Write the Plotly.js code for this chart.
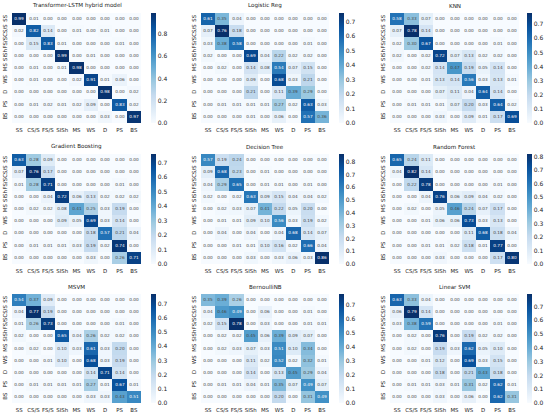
<!DOCTYPE html>
<html>
<head>
<meta charset="utf-8">
<script src="https://cdn.plot.ly/plotly-3.0.1.min.js"></script>
<style>html,body{margin:0;padding:0;background:#fff;}#chart{width:550px;height:420px;}</style>
</head>
<body>
<div id="chart"></div>
<script>
const categories = ["SS","CS/S","FS/S","SISh","MS","WS","D","PS","BS"];
const modelTitles = ["Transformer-LSTM hybrid model","Logistic Reg","KNN","Gradient Boosting","Decision Tree","Random Forest","MSVM","BernoulliNB","Linear SVM"];

const transformerLSTM = [
  [0.99,0.01,0.00,0.00,0.00,0.00,0.00,0.00,0.00],
  [0.02,0.82,0.14,0.00,0.01,0.00,0.01,0.00,0.00],
  [0.00,0.15,0.83,0.01,0.00,0.00,0.00,0.01,0.00],
  [0.00,0.00,0.00,0.99,0.00,0.01,0.00,0.00,0.00],
  [0.00,0.01,0.00,0.01,0.98,0.00,0.00,0.00,0.00],
  [0.00,0.01,0.00,0.00,0.02,0.91,0.01,0.06,0.00],
  [0.00,0.00,0.00,0.00,0.00,0.00,0.98,0.00,0.02],
  [0.00,0.01,0.02,0.01,0.02,0.09,0.00,0.83,0.02],
  [0.00,0.00,0.00,0.00,0.00,0.00,0.03,0.00,0.97]
];
const logisticReg = [
  [0.61,0.35,0.04,0.00,0.00,0.00,0.00,0.00,0.00],
  [0.07,0.76,0.18,0.00,0.00,0.00,0.00,0.00,0.00],
  [0.03,0.38,0.58,0.00,0.00,0.00,0.00,0.01,0.00],
  [0.02,0.00,0.00,0.69,0.04,0.22,0.02,0.02,0.00],
  [0.00,0.02,0.00,0.14,0.08,0.54,0.07,0.15,0.00],
  [0.00,0.00,0.00,0.09,0.00,0.68,0.03,0.21,0.00],
  [0.00,0.00,0.00,0.21,0.00,0.11,0.39,0.29,0.00],
  [0.00,0.01,0.01,0.01,0.01,0.27,0.02,0.63,0.03],
  [0.00,0.00,0.00,0.01,0.00,0.06,0.00,0.57,0.36]
];
const knn = [
  [0.58,0.33,0.07,0.00,0.00,0.00,0.00,0.00,0.00],
  [0.07,0.78,0.14,0.00,0.00,0.00,0.00,0.00,0.00],
  [0.02,0.30,0.67,0.00,0.00,0.00,0.00,0.01,0.00],
  [0.02,0.00,0.02,0.72,0.07,0.13,0.02,0.02,0.00],
  [0.00,0.00,0.02,0.14,0.47,0.19,0.05,0.14,0.00],
  [0.00,0.00,0.01,0.13,0.14,0.56,0.03,0.13,0.01],
  [0.00,0.00,0.00,0.07,0.11,0.04,0.64,0.14,0.00],
  [0.00,0.01,0.01,0.01,0.07,0.20,0.03,0.64,0.02],
  [0.00,0.00,0.00,0.03,0.00,0.09,0.01,0.17,0.69]
];
const gradientBoosting = [
  [0.63,0.28,0.09,0.00,0.00,0.00,0.00,0.00,0.00],
  [0.07,0.76,0.17,0.00,0.00,0.00,0.00,0.00,0.00],
  [0.01,0.28,0.71,0.00,0.00,0.00,0.00,0.01,0.00],
  [0.00,0.00,0.04,0.72,0.06,0.13,0.02,0.02,0.02],
  [0.00,0.02,0.02,0.08,0.41,0.25,0.03,0.19,0.00],
  [0.00,0.00,0.00,0.09,0.05,0.69,0.03,0.14,0.00],
  [0.00,0.00,0.00,0.00,0.00,0.18,0.57,0.21,0.04],
  [0.00,0.01,0.01,0.01,0.03,0.19,0.02,0.74,0.00],
  [0.00,0.00,0.00,0.00,0.00,0.03,0.00,0.26,0.71]
];
const decisionTree = [
  [0.57,0.19,0.24,0.00,0.00,0.00,0.00,0.00,0.00],
  [0.09,0.68,0.23,0.00,0.01,0.00,0.00,0.00,0.00],
  [0.04,0.29,0.65,0.00,0.01,0.01,0.00,0.01,0.00],
  [0.02,0.00,0.02,0.63,0.09,0.15,0.04,0.04,0.02],
  [0.00,0.02,0.03,0.07,0.41,0.22,0.05,0.20,0.00],
  [0.00,0.01,0.01,0.09,0.10,0.56,0.03,0.19,0.02],
  [0.00,0.04,0.00,0.04,0.00,0.04,0.68,0.14,0.07],
  [0.00,0.00,0.01,0.01,0.10,0.16,0.02,0.66,0.04],
  [0.00,0.00,0.00,0.03,0.00,0.03,0.06,0.03,0.86]
];
const randomForest = [
  [0.65,0.24,0.11,0.00,0.00,0.00,0.00,0.00,0.00],
  [0.04,0.82,0.14,0.00,0.00,0.00,0.00,0.00,0.00],
  [0.00,0.22,0.78,0.00,0.00,0.00,0.00,0.01,0.00],
  [0.00,0.00,0.04,0.76,0.06,0.09,0.04,0.02,0.00],
  [0.00,0.02,0.00,0.05,0.46,0.24,0.07,0.17,0.00],
  [0.00,0.00,0.01,0.06,0.06,0.73,0.03,0.13,0.00],
  [0.00,0.00,0.00,0.00,0.00,0.11,0.68,0.18,0.04],
  [0.00,0.00,0.01,0.01,0.02,0.18,0.01,0.77,0.00],
  [0.00,0.00,0.00,0.03,0.00,0.00,0.00,0.17,0.80]
];
const msvm = [
  [0.54,0.37,0.09,0.00,0.00,0.00,0.00,0.00,0.00],
  [0.04,0.77,0.19,0.00,0.00,0.00,0.00,0.00,0.00],
  [0.01,0.26,0.73,0.00,0.00,0.00,0.00,0.01,0.00],
  [0.02,0.00,0.00,0.65,0.04,0.26,0.02,0.02,0.00],
  [0.00,0.02,0.00,0.10,0.03,0.61,0.03,0.20,0.00],
  [0.00,0.00,0.01,0.10,0.00,0.68,0.03,0.19,0.00],
  [0.00,0.00,0.00,0.00,0.00,0.14,0.71,0.14,0.00],
  [0.00,0.01,0.01,0.01,0.01,0.27,0.01,0.67,0.01],
  [0.00,0.00,0.00,0.00,0.00,0.03,0.03,0.43,0.51]
];
const bernoulliNB = [
  [0.35,0.39,0.26,0.00,0.00,0.00,0.00,0.00,0.00],
  [0.04,0.46,0.49,0.00,0.06,0.00,0.00,0.01,0.00],
  [0.02,0.15,0.78,0.00,0.03,0.00,0.00,0.01,0.01],
  [0.00,0.02,0.02,0.45,0.06,0.39,0.09,0.07,0.00],
  [0.00,0.02,0.03,0.07,0.03,0.51,0.10,0.34,0.00],
  [0.00,0.00,0.00,0.11,0.02,0.52,0.02,0.32,0.01],
  [0.00,0.00,0.00,0.14,0.00,0.13,0.45,0.29,0.04],
  [0.00,0.01,0.01,0.04,0.01,0.35,0.07,0.49,0.07],
  [0.00,0.00,0.00,0.00,0.00,0.20,0.00,0.31,0.49]
];
const linearSVM = [
  [0.63,0.33,0.04,0.00,0.00,0.00,0.00,0.00,0.00],
  [0.06,0.79,0.14,0.00,0.00,0.00,0.00,0.00,0.00],
  [0.03,0.38,0.59,0.00,0.00,0.00,0.00,0.01,0.00],
  [0.00,0.02,0.00,0.76,0.00,0.19,0.02,0.02,0.00],
  [0.00,0.02,0.00,0.19,0.03,0.62,0.05,0.10,0.00],
  [0.00,0.00,0.01,0.12,0.00,0.69,0.03,0.15,0.00],
  [0.00,0.00,0.00,0.18,0.00,0.21,0.43,0.18,0.00],
  [0.00,0.01,0.01,0.03,0.01,0.31,0.02,0.62,0.01],
  [0.00,0.00,0.00,0.03,0.00,0.06,0.00,0.62,0.31]
];
const matrices = [transformerLSTM, logisticReg, knn, gradientBoosting, decisionTree, randomForest, msvm, bernoulliNB, linearSVM];

const W = 550, H = 420;
const colLeft = [12, 201, 390], colRight = [141, 329, 519];
const cbLeft = [151, 339, 527];
const rowTop = [13, 154, 294], rowBottom = [123, 264, 403];

const blues = [
  [0.0,'#f7fbff'],[0.125,'#deebf7'],[0.25,'#c6dbef'],[0.375,'#9ecae1'],
  [0.5,'#6baed6'],[0.625,'#4292c6'],[0.75,'#2171b5'],[0.875,'#08519c'],[1.0,'#08306b']
];

const data = [];
const layout = {
  width: W, height: H,
  margin: {l:0, r:0, t:0, b:0},
  paper_bgcolor: '#fff', plot_bgcolor: '#fff',
  showlegend: false,
  font: {family: 'DejaVu Sans, sans-serif', color: '#222'},
  annotations: []
};

matrices.forEach((m, i) => {
  const r = Math.floor(i / 3), c = i % 3;
  const zmax = Math.max(...m.flat());
  const idx = i === 0 ? '' : String(i + 1);
  const xa = 'x' + idx, ya = 'y' + idx;
  data.push({
    type: 'heatmap',
    z: m, x: categories, y: categories,
    xaxis: xa, yaxis: ya,
    colorscale: blues, zmin: 0, zmax: zmax,
    texttemplate: '%{z:.2f}',
    textfont: {size: 4.2, family: 'DejaVu Sans, sans-serif'},
    hoverinfo: 'skip',
    xgap: 0, ygap: 0,
    colorbar: {
      x: cbLeft[c] / W, xanchor: 'left', xpad: 0, ypad: 0,
      y: 1 - (rowTop[r] + rowBottom[r]) / 2 / H, yanchor: 'middle',
      len: rowBottom[r] - rowTop[r], lenmode: 'pixels',
      thickness: 5, outlinewidth: 0,
      ticks: '', dtick: zmax > 0.9 ? 0.2 : 0.1, tick0: 0, tickformat: '.1f',
      tickfont: {size: 6, color: '#222'}
    }
  });
  const axX = 'xaxis' + idx, axY = 'yaxis' + idx;
  layout[axX] = {
    domain: [colLeft[c] / W, colRight[c] / W], anchor: ya,
    type: 'category', showgrid: false, zeroline: false, showline: false,
    ticks: 'outside', ticklen: 2, tickcolor: 'rgba(0,0,0,0)',
    tickfont: {size: 5.4, color: '#222'}, tickangle: 0
  };
  layout[axY] = {
    domain: [1 - rowBottom[r] / H, 1 - rowTop[r] / H], anchor: xa,
    type: 'category', autorange: 'reversed', showgrid: false, zeroline: false, showline: false,
    ticks: 'outside', ticklen: 2, tickcolor: 'rgba(0,0,0,0)',
    tickfont: {size: 5.4, color: '#222'}, tickangle: -90
  };
  layout.annotations.push({
    text: modelTitles[i], xref: 'paper', yref: 'paper',
    x: (colLeft[c] + colRight[c]) / 2 / W, y: 1 - (rowTop[r] - 2) / H,
    xanchor: 'center', yanchor: 'bottom', showarrow: false,
    font: {size: 5.6, color: '#222'}
  });
});

Plotly.newPlot('chart', data, layout, {displayModeBar: false, staticPlot: true});
</script>
</body>
</html>
